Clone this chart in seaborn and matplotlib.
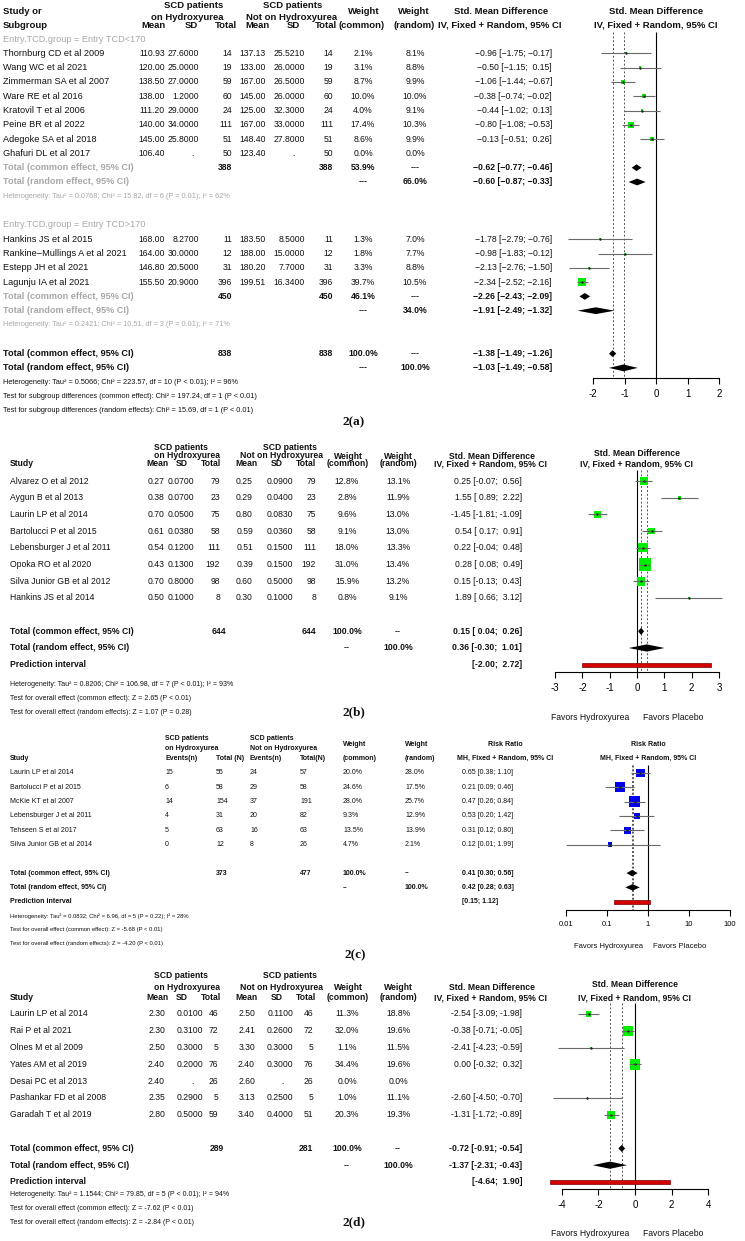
import numpy as np
import pandas as pd
import matplotlib
matplotlib.use("Agg")
import matplotlib.pyplot as plt
import seaborn as sns

nan = float("nan")

# ======================= DATA =======================
# ---- Panel 2(a): subgroup meta-analysis (Entry TCD) ----
a_study = ["Thornburg CD et al 2009", "Wang WC et al 2021", "Zimmerman SA et al 2007",
           "Ware RE et al 2016", "Kratovil T et al 2006", "Peine BR et al 2022",
           "Adegoke SA et al 2018", "Ghafuri DL et al 2017",
           "Hankins JS et al 2015", "Rankine\u2212Mullings A et al 2021",
           "Estepp JH et al 2021", "Lagunju IA et al 2021"]
a_group = [1, 1, 1, 1, 1, 1, 1, 1, 2, 2, 2, 2]
a_mean1 = [110.93, 120.00, 138.50, 138.00, 111.20, 140.00, 145.00, 106.40, 168.00, 164.00, 146.80, 155.50]
a_sd1 = [27.6, 25.0, 27.0, 1.2, 29.0, 34.0, 25.8, nan, 8.27, 30.0, 20.5, 20.9]
a_n1 = [14, 19, 59, 60, 24, 111, 51, 50, 11, 12, 31, 396]
a_mean2 = [137.13, 133.00, 167.00, 145.00, 125.00, 167.00, 148.40, 123.40, 183.50, 188.00, 180.20, 199.51]
a_sd2 = [25.521, 26.0, 26.5, 26.0, 32.3, 33.0, 27.8, nan, 8.5, 15.0, 7.7, 16.34]
a_n2 = [14, 19, 59, 60, 24, 111, 51, 50, 11, 12, 31, 396]
a_wcommon = [2.1, 3.1, 8.7, 10.0, 4.0, 17.4, 8.6, 0.0, 1.3, 1.8, 3.3, 39.7]
a_wrandom = [8.1, 8.8, 9.9, 10.0, 9.1, 10.3, 9.9, 0.0, 7.0, 7.7, 8.8, 10.5]
a_smd = [-0.96, -0.50, -1.06, -0.38, -0.44, -0.80, -0.13, nan, -1.78, -0.98, -2.13, -2.34]
a_lower = [-1.75, -1.15, -1.44, -0.74, -1.02, -1.08, -0.51, nan, -2.79, -1.83, -2.76, -2.52]
a_upper = [-0.17, 0.15, -0.67, -0.02, 0.13, -0.53, 0.26, nan, -0.76, -0.12, -1.50, -2.16]
a_sub_labels = ["Entry.TCD.group = Entry TCD<170", "Entry.TCD.group = Entry TCD>170"]
a_sub_n = [(388, 388), (450, 450)]
a_sub_wcommon = [53.9, 46.1]
a_sub_wrandom = [66.0, 34.0]
a_sub_common = [(-0.62, -0.77, -0.46), (-2.26, -2.43, -2.09)]
a_sub_random = [(-0.60, -0.87, -0.33), (-1.91, -2.49, -1.32)]
a_sub_het = ["Heterogeneity: Tau\u00b2 = 0.0768; Chi\u00b2 = 15.82, df = 6 (P = 0.01); I\u00b2 = 62%",
             "Heterogeneity: Tau\u00b2 = 0.2421; Chi\u00b2 = 10.51, df = 3 (P = 0.01); I\u00b2 = 71%"]
a_total_n = (838, 838)
a_total_common = (-1.38, -1.49, -1.26)
a_total_random = (-1.03, -1.49, -0.58)
a_notes = ["Heterogeneity: Tau\u00b2 = 0.5066; Chi\u00b2 = 223.57, df = 10 (P < 0.01); I\u00b2 = 96%",
           "Test for subgroup differences (common effect): Chi\u00b2 = 197.24, df = 1 (P < 0.01)",
           "Test for subgroup differences (random effects): Chi\u00b2 = 15.69, df = 1 (P < 0.01)"]
a_ticks = [-2, -1, 0, 1, 2]

# ---- Panel 2(b) ----
b_study = ["Alvarez O et al 2012", "Aygun B et al 2013", "Laurin LP et al 2014",
           "Bartolucci P et al 2015", "Lebensburger J et al 2011", "Opoka RO et al 2020",
           "Silva Junior GB et al 2012", "Hankins JS et al 2014"]
b_mean1 = [0.27, 0.38, 0.70, 0.61, 0.54, 0.43, 0.70, 0.50]
b_sd1 = [0.07, 0.07, 0.05, 0.038, 0.12, 0.13, 0.80, 0.10]
b_n1 = [79, 23, 75, 58, 111, 192, 98, 8]
b_mean2 = [0.25, 0.29, 0.80, 0.59, 0.51, 0.39, 0.60, 0.30]
b_sd2 = [0.09, 0.04, 0.083, 0.036, 0.15, 0.15, 0.50, 0.10]
b_n2 = [79, 23, 75, 58, 111, 192, 98, 8]
b_wcommon = [12.8, 2.8, 9.6, 9.1, 18.0, 31.0, 15.9, 0.8]
b_wrandom = [13.1, 11.9, 13.0, 13.0, 13.3, 13.4, 13.2, 9.1]
b_smd = [0.25, 1.55, -1.45, 0.54, 0.22, 0.28, 0.15, 1.89]
b_lower = [-0.07, 0.89, -1.81, 0.17, -0.04, 0.08, -0.13, 0.66]
b_upper = [0.56, 2.22, -1.09, 0.91, 0.48, 0.49, 0.43, 3.12]
b_total_n = (644, 644)
b_common = (0.15, 0.04, 0.26)
b_random = (0.36, -0.30, 1.01)
b_pred = (-2.00, 2.72)
b_notes = ["Heterogeneity: Tau\u00b2 = 0.8206; Chi\u00b2 = 106.98, df = 7 (P < 0.01); I\u00b2 = 93%",
           "Test for overall effect (common effect): Z = 2.65 (P < 0.01)",
           "Test for overall effect (random effects): Z = 1.07 (P = 0.28)"]
b_ticks = [-3, -2, -1, 0, 1, 2, 3]

# ---- Panel 2(c) ----
c_study = ["Laurin LP et al 2014", "Bartolucci P et al 2015", "McKie KT et al 2007",
           "Lebensburger J et al 2011", "Tehseen S et al 2017", "Silva Junior GB et al 2014"]
c_events1 = [15, 6, 14, 4, 5, 0]
c_total1 = [55, 58, 154, 31, 63, 12]
c_events2 = [24, 29, 37, 20, 16, 8]
c_total2 = [57, 58, 191, 82, 63, 26]
c_wcommon = [20.0, 24.6, 28.0, 9.3, 13.5, 4.7]
c_wrandom = [28.0, 17.5, 25.7, 12.9, 13.9, 2.1]
c_rr = [0.65, 0.21, 0.47, 0.53, 0.31, 0.12]
c_lower = [0.38, 0.09, 0.26, 0.20, 0.12, 0.01]
c_upper = [1.10, 0.46, 0.84, 1.42, 0.80, 1.99]
c_total_n = (373, 477)
c_common = (0.41, 0.30, 0.56)
c_random = (0.42, 0.28, 0.63)
c_pred = (0.15, 1.12)
c_notes = ["Heterogeneity: Tau\u00b2 = 0.0832; Chi\u00b2 = 6.96, df = 5 (P = 0.22); I\u00b2 = 28%",
           "Test for overall effect (common effect): Z = -5.68 (P < 0.01)",
           "Test for overall effect (random effects): Z = -4.20 (P < 0.01)"]
c_ticks = [0.01, 0.1, 1, 10, 100]
c_ticklabels = ["0.01", "0.1", "1", "10", "100"]

# ---- Panel 2(d) ----
d_study = ["Laurin LP et al 2014", "Rai P et al 2021", "Olnes M et al 2009", "Yates AM et al 2019",
           "Desai PC et al 2013", "Pashankar FD et al 2008", "Garadah T et al 2019"]
d_mean1 = [2.30, 2.30, 2.50, 2.40, 2.40, 2.35, 2.80]
d_sd1 = [0.01, 0.31, 0.30, 0.20, nan, 0.29, 0.50]
d_n1 = [46, 72, 5, 76, 26, 5, 59]
d_mean2 = [2.50, 2.41, 3.30, 2.40, 2.60, 3.13, 3.40]
d_sd2 = [0.11, 0.26, 0.30, 0.30, nan, 0.25, 0.40]
d_n2 = [46, 72, 5, 76, 26, 5, 51]
d_wcommon = [11.3, 32.0, 1.1, 34.4, 0.0, 1.0, 20.3]
d_wrandom = [18.8, 19.6, 11.5, 19.6, 0.0, 11.1, 19.3]
d_smd = [-2.54, -0.38, -2.41, 0.00, nan, -2.60, -1.31]
d_lower = [-3.09, -0.71, -4.23, -0.32, nan, -4.50, -1.72]
d_upper = [-1.98, -0.05, -0.59, 0.32, nan, -0.70, -0.89]
d_total_n = (289, 281)
d_common = (-0.72, -0.91, -0.54)
d_random = (-1.37, -2.31, -0.43)
d_pred = (-4.64, 1.90)
d_notes = ["Heterogeneity: Tau\u00b2 = 1.1544; Chi\u00b2 = 79.85, df = 5 (P < 0.01); I\u00b2 = 94%",
           "Test for overall effect (common effect): Z = -7.62 (P < 0.01)",
           "Test for overall effect (random effects): Z = -2.84 (P < 0.01)"]
d_ticks = [-4, -2, 0, 2, 4]

# ======================= SETUP =======================
W, H = 745, 1241
sns.set_theme(style="white")
plt.rcParams["font.family"] = ["Liberation Sans", "DejaVu Sans"]
plt.rcParams["axes.unicode_minus"] = False

fig = plt.figure(figsize=(W / 100, H / 100), dpi=100)
fig.patch.set_facecolor("white")

TXT = "#111111"
GREY = "#a8a8a8"
GREEN = "#00ee00"
BLUE = "#0000ee"


def put(x, y, s, size, ha="left", bold=False, color=TXT, family=None):
    kw = dict(fontsize=size, ha=ha, va="center", color=color,
              fontweight="bold" if bold else "normal")
    if family is not None:
        kw["family"] = family
    fig.text(x / W, 1 - y / H, s, **kw)


def ci_str(e, lo, hi, minus="-", pad=True):
    if pad:
        s = f"{e:.2f} [{lo:5.2f}; {hi:5.2f}]"
    else:
        s = f"{e:.2f} [{lo:.2f}; {hi:.2f}]"
    return s.replace("-", minus)


def forest_axes(L, R, T, B):
    ax = fig.add_axes([L / W, 1 - B / H, (R - L) / W, (B - T) / H])
    ax.patch.set_alpha(0)
    for s in ("top", "right", "left"):
        ax.spines[s].set_visible(False)
    return ax


def finish_axes(ax, L, R, T, B, x0, k, r0, dr, ticks, labels, axis_px, fs, log=False):
    if log:
        ax.set_xscale("log")
        ax.set_xlim(10 ** ((L - x0) / k), 10 ** ((R - x0) / k))
    else:
        ax.set_xlim((L - x0) / k, (R - x0) / k)
    ax.set_ylim((B - r0) / dr, (T - r0) / dr)
    ax.set_yticks([])
    sp = ax.spines["bottom"]
    sp.set_position(("data", (axis_px - r0) / dr))
    sp.set_bounds(ticks[0], ticks[-1])
    sp.set_color("black")
    sp.set_linewidth(0.8)
    ax.set_xticks(ticks)
    ax.set_xticklabels(labels)
    ax.minorticks_off()
    ax.tick_params(axis="x", which="both", bottom=True, direction="out", length=4,
                   width=0.8, colors="black", labelsize=fs, pad=4)
    ax.set_xlabel("")
    ax.set_ylabel("")
    ax.grid(False)


def studies(ax, est, lo, hi, rows, w, smax, wmax, color):
    df = pd.DataFrame(dict(est=est, lo=lo, hi=hi, row=rows, w=w)).dropna()
    sns.scatterplot(data=df, x="est", y="row", size="w", sizes=(0, smax), size_norm=(0, wmax),
                    marker="s", color=color, linewidth=0, legend=False, ax=ax, zorder=3)
    ax.hlines(df["row"], df["lo"], df["hi"], color="#6a6a6a", lw=0.8, zorder=4)
    sns.scatterplot(data=df, x="est", y="row", marker="o", s=3, color="#103010",
                    linewidth=0, legend=False, ax=ax, zorder=5)


def diamond(ax, e, lo, hi, row, hh):
    ax.fill([lo, e, hi, e], [row, row - hh, row, row + hh], color="black", lw=0, zorder=4)


def pred_bar(ax, lo, hi, row, hh):
    ax.fill([lo, hi, hi, lo], [row - hh, row - hh, row + hh, row + hh],
            facecolor="#d40000", edgecolor="#7a0000", lw=0.5, zorder=4)


def ref_lines(ax, ref, dots, top, bottom):
    ax.vlines(ref, top, bottom, color="black", lw=0.8, zorder=1)
    ax.vlines(dots, top, bottom, color="#555555", lw=0.7, linestyles=(0, (2, 2)), zorder=1)


# ======================= PANEL 2(a) =======================
r0a, dra = 39.0, 14.3
ya = lambda r: r0a + dra * r
FS_A, NFS_A, HFS_A, SFS_A = 6.6, 6.2, 6.8, 5.3

put(3, 11, "Study or", HFS_A, bold=True)
put(3, 25, "Subgroup", HFS_A, bold=True)
put(194, 5, "SCD patients", HFS_A, ha="center", bold=True)
put(187, 17, "on Hydroxyurea", HFS_A, ha="center", bold=True)
put(293, 5, "SCD patients", HFS_A, ha="center", bold=True)
put(292, 17, "Not on Hydroxyurea", HFS_A, ha="center", bold=True)
for x, s in [(153, "Mean"), (191, "SD"), (226, "Total"), (257, "Mean"), (293, "SD"), (326, "Total")]:
    put(x, 25, s, HFS_A, ha="center", bold=True)
put(364, 11, "Weight", HFS_A, ha="center", bold=True)
put(362, 25, "(common)", HFS_A, ha="center", bold=True)
put(414, 11, "Weight", HFS_A, ha="center", bold=True)
put(414, 25, "(random)", HFS_A, ha="center", bold=True)
put(501, 11, "Std. Mean Difference", HFS_A, ha="center", bold=True)
put(500, 25, "IV, Fixed + Random, 95% CI", HFS_A, ha="center", bold=True)
put(656, 11, "Std. Mean Difference", HFS_A, ha="center", bold=True)
put(656, 25, "IV, Fixed + Random, 95% CI", HFS_A, ha="center", bold=True)

MN = "\u2212"
a_rows = [nan] * len(a_study)
row = 0
sub_rows = []
for gi, g in enumerate([1, 2]):
    put(3, ya(row), a_sub_labels[gi], FS_A, color=GREY)
    row += 1
    for i in range(len(a_study)):
        if a_group[i] != g:
            continue
        a_rows[i] = row
        y = ya(row)
        put(3, y, a_study[i], FS_A)
        put(165, y, f"{a_mean1[i]:.2f}", NFS_A, ha="right")
        if np.isnan(a_sd1[i]):
            put(192, y, ".", NFS_A, ha="center")
        else:
            put(199, y, f"{a_sd1[i]:.4f}", NFS_A, ha="right")
        put(232, y, str(a_n1[i]), NFS_A, ha="right")
        put(266, y, f"{a_mean2[i]:.2f}", NFS_A, ha="right")
        if np.isnan(a_sd2[i]):
            put(293, y, ".", NFS_A, ha="center")
        else:
            put(305, y, f"{a_sd2[i]:.4f}", NFS_A, ha="right")
        put(333, y, str(a_n2[i]), NFS_A, ha="right")
        put(363, y, f"{a_wcommon[i]:.1f}%", NFS_A, ha="center")
        put(415, y, f"{a_wrandom[i]:.1f}%", NFS_A, ha="center")
        if not np.isnan(a_smd[i]):
            put(552, y, ci_str(a_smd[i], a_lower[i], a_upper[i], MN), NFS_A, ha="right")
        row += 1
    y = ya(row)
    put(3, y, "Total (common effect, 95% CI)", FS_A, bold=True, color=GREY)
    put(232, y, str(a_sub_n[gi][0]), NFS_A, ha="right", bold=True)
    put(333, y, str(a_sub_n[gi][1]), NFS_A, ha="right", bold=True)
    put(363, y, f"{a_sub_wcommon[gi]:.1f}%", NFS_A, ha="center", bold=True)
    put(415, y, "---", NFS_A, ha="center", bold=True)
    put(552, y, ci_str(*a_sub_common[gi], MN), NFS_A, ha="right", bold=True)
    y = ya(row + 1)
    put(3, y, "Total (random effect, 95% CI)", FS_A, bold=True, color=GREY)
    put(363, y, "---", NFS_A, ha="center", bold=True)
    put(415, y, f"{a_sub_wrandom[gi]:.1f}%", NFS_A, ha="center", bold=True)
    put(552, y, ci_str(*a_sub_random[gi], MN), NFS_A, ha="right", bold=True)
    put(3, ya(row + 2), a_sub_het[gi], SFS_A, color=GREY)
    sub_rows.append(row)
    row += 4

tot_row = row
y = ya(tot_row)
put(3, y, "Total (common effect, 95% CI)", FS_A, bold=True)
put(232, y, str(a_total_n[0]), NFS_A, ha="right", bold=True)
put(333, y, str(a_total_n[1]), NFS_A, ha="right", bold=True)
put(363, y, "100.0%", NFS_A, ha="center", bold=True)
put(415, y, "---", NFS_A, ha="center", bold=True)
put(552, y, ci_str(*a_total_common, MN), NFS_A, ha="right", bold=True)
y = ya(tot_row + 1)
put(3, y, "Total (random effect, 95% CI)", FS_A, bold=True)
put(363, y, "---", NFS_A, ha="center", bold=True)
put(415, y, "100.0%", NFS_A, ha="center", bold=True)
put(552, y, ci_str(*a_total_random, MN), NFS_A, ha="right", bold=True)
for j, s in enumerate(a_notes):
    put(3, ya(tot_row + 2 + j), s, SFS_A)
put(354, 422, "2(a)", 9.5, ha="center", bold=True, family="Liberation Serif")

LA, RA, TA, BA = 560, 735, 28, 400
axa = forest_axes(LA, RA, TA, BA)
studies(axa, a_smd, a_lower, a_upper, a_rows, a_wcommon, 36, 39.7, GREEN)
hh = 3.4 / dra
for gi, r in enumerate(sub_rows):
    diamond(axa, *a_sub_common[gi], r, hh)
    diamond(axa, *a_sub_random[gi], r + 1, hh)
diamond(axa, *a_total_common, tot_row, hh)
diamond(axa, *a_total_random, tot_row + 1, hh)
axis_a = (378 - r0a) / dra
ref_lines(axa, 0, [a_total_common[0], a_total_random[0]], (32 - r0a) / dra, axis_a)
finish_axes(axa, LA, RA, TA, BA, 656, 31.5, r0a, dra, a_ticks, [str(t) for t in a_ticks], 378, 7)


# ======================= PANELS 2(b) and 2(d) =======================
def smd_panel(study, m1, s1, n1, m2, s2, n2, wc, wr, est, lo, hi, tot_n, com, ran, pred, notes,
              ticks, r0, dr, hdr, cols, fpos, axis_px, vtop, x0, k, smax, wmax, notes_y, fav_y, lab, lab_y,
              FS=6.2, SFS=5.0):
    yy = lambda r: r0 + dr * r
    h1, h2, h3 = hdr
    HFS = FS
    put(181, h1, "SCD patients", HFS, ha="center", bold=True)
    put(187, h2, "on Hydroxyurea", HFS, ha="center", bold=True)
    put(290, h1, "SCD patients", HFS, ha="center", bold=True)
    put(281, h2, "Not on Hydroxyurea", HFS, ha="center", bold=True)
    put(10, h3, "Study", HFS, bold=True)
    for x, s in [(157, "Mean"), (182, "SD"), (211, "Total"), (246, "Mean"), (277, "SD"), (306, "Total")]:
        put(x, h3, s, HFS, ha="center", bold=True)
    hw = (h1 + h3) / 2 + 1
    put(348, hw, "Weight", HFS, ha="center", bold=True)
    put(348, h3, "(common)", HFS, ha="center", bold=True)
    put(398, hw, "Weight", HFS, ha="center", bold=True)
    put(398, h3, "(random)", HFS, ha="center", bold=True)
    put(492, hw, "Std. Mean Difference", HFS, ha="center", bold=True)
    put(490, h3, "IV, Fixed + Random, 95% CI", HFS, ha="center", bold=True)
    put(x0, hw - 3, "Std. Mean Difference", HFS, ha="center", bold=True)
    put(x0, h3, "IV, Fixed + Random, 95% CI", HFS, ha="center", bold=True)

    c = cols
    rows = list(range(len(study)))
    for i in rows:
        y = yy(i)
        put(10, y, study[i], FS)
        put(c[0], y, f"{m1[i]:.2f}", FS, ha="right")
        if np.isnan(s1[i]):
            put(c[1] - 11, y, ".", FS, ha="center")
        else:
            put(c[1], y, f"{s1[i]:.4f}", FS, ha="right")
        put(c[2], y, str(n1[i]), FS, ha="right")
        put(c[3], y, f"{m2[i]:.2f}", FS, ha="right")
        if np.isnan(s2[i]):
            put(c[4] - 11, y, ".", FS, ha="center")
        else:
            put(c[4], y, f"{s2[i]:.4f}", FS, ha="right")
        put(c[5], y, str(n2[i]), FS, ha="right")
        put(347, y, f"{wc[i]:.1f}%", FS, ha="center")
        put(398, y, f"{wr[i]:.1f}%", FS, ha="center")
        if not np.isnan(est[i]):
            put(522, y, ci_str(est[i], lo[i], hi[i]), FS, ha="right")
    rc = len(study) + 1
    y = yy(rc)
    put(10, y, "Total (common effect, 95% CI)", FS, bold=True)
    put(c[2] + 6, y, str(tot_n[0]), FS, ha="right", bold=True)
    put(c[5], y, str(tot_n[1]), FS, ha="right", bold=True)
    put(347, y, "100.0%", FS, ha="center", bold=True)
    put(398, y, "--", FS, ha="center", bold=True)
    put(522, y, ci_str(*com), FS, ha="right", bold=True)
    y = yy(rc + 1)
    put(10, y, "Total (random effect, 95% CI)", FS, bold=True)
    put(347, y, "--", FS, ha="center", bold=True)
    put(398, y, "100.0%", FS, ha="center", bold=True)
    put(522, y, ci_str(*ran), FS, ha="right", bold=True)
    y = yy(rc + 2)
    put(10, y, "Prediction interval", FS, bold=True)
    put(522, y, f"[{pred[0]:5.2f}; {pred[1]:5.2f}]", FS, ha="right", bold=True)
    for j, s in enumerate(notes):
        put(10, notes_y[j], s, SFS)
    put(590, fav_y, "Favors Hydroxyurea", FS, ha="center")
    put(673, fav_y, "Favors Placebo", FS, ha="center")
    put(354, lab_y, lab, 9.5, ha="center", bold=True, family="Liberation Serif")

    L, R, T, B = fpos
    ax = forest_axes(L, R, T, B)
    studies(ax, est, lo, hi, rows, wc, smax, wmax, GREEN)
    hh = 3.6 / dr
    diamond(ax, *com, rc, hh)
    diamond(ax, *ran, rc + 1, hh)
    pred_bar(ax, pred[0], pred[1], rc + 2, 2.2 / dr)
    ax_row = (axis_px - r0) / dr
    ref_lines(ax, 0, [com[0], ran[0]], (vtop - r0) / dr, ax_row)
    finish_axes(ax, L, R, T, B, x0, k, r0, dr, ticks, [str(t) for t in ticks], axis_px, 7)


smd_panel(b_study, b_mean1, b_sd1, b_n1, b_mean2, b_sd2, b_n2, b_wcommon, b_wrandom,
          b_smd, b_lower, b_upper, b_total_n, b_common, b_random, b_pred, b_notes, b_ticks,
          r0=481, dr=16.7, hdr=(447, 456, 464), cols=(164, 194, 220, 253, 293, 316),
          fpos=(540, 735, 466, 700), axis_px=672, vtop=470, x0=637, k=27.3,
          smax=75, wmax=31.0, notes_y=(685, 699, 713), fav_y=717, lab="2(b)", lab_y=712)

smd_panel(d_study, d_mean1, d_sd1, d_n1, d_mean2, d_sd2, d_n2, d_wcommon, d_wrandom,
          d_smd, d_lower, d_upper, d_total_n, d_common, d_random, d_pred, d_notes, d_ticks,
          r0=1014, dr=16.8, hdr=(975, 987, 998), cols=(165, 203, 218, 255, 293, 313),
          fpos=(545, 735, 1000, 1215), axis_px=1189, vtop=1003, x0=635, k=18.3,
          smax=55, wmax=34.4, notes_y=(1195, 1209, 1223), fav_y=1234, lab="2(d)", lab_y=1222)

# ======================= PANEL 2(c) =======================
r0c, drc = 773.0, 14.3
yc = lambda r: r0c + drc * r
FS_C, SFS_C = 5.0, 4.2
XE1, XN1, XE2, XN2, XWC, XWR, XRR = 165, 216, 250, 300, 343, 405, 462
put(XE1, 739, "SCD patients", FS_C, bold=True)
put(XE1, 749, "on Hydroxyurea", FS_C, bold=True)
put(XE2, 739, "SCD patients", FS_C, bold=True)
put(XE2, 749, "Not on Hydroxyurea", FS_C, bold=True)
put(10, 758, "Study", FS_C, bold=True)
for x, s in [(XE1, "Events(n)"), (XN1, "Total (N)"), (XE2, "Events(n)"), (XN2, "Total(N)"),
             (XWC, "(common)"), (XWR, "(random)")]:
    put(x, 758, s, FS_C, bold=True)
put(XWC, 744, "Weight", FS_C, bold=True)
put(XWR, 744, "Weight", FS_C, bold=True)
put(505, 744, "Risk Ratio", FS_C, ha="center", bold=True)
put(505, 758, "MH, Fixed + Random, 95% CI", FS_C, ha="center", bold=True)
put(648, 744, "Risk Ratio", FS_C, ha="center", bold=True)
put(648, 758, "MH, Fixed + Random, 95% CI", FS_C, ha="center", bold=True)

c_rows = list(range(len(c_study)))
for i in c_rows:
    y = yc(i)
    put(10, y, c_study[i], FS_C)
    put(XE1, y, str(c_events1[i]), FS_C)
    put(XN1, y, str(c_total1[i]), FS_C)
    put(XE2, y, str(c_events2[i]), FS_C)
    put(XN2, y, str(c_total2[i]), FS_C)
    put(XWC, y, f"{c_wcommon[i]:.1f}%", FS_C)
    put(XWR, y, f"{c_wrandom[i]:.1f}%", FS_C)
    put(XRR, y, ci_str(c_rr[i], c_lower[i], c_upper[i], pad=False), FS_C)
rc = len(c_study) + 1
y = yc(rc)
put(10, y, "Total (common effect, 95% CI)", FS_C, bold=True)
put(XN1, y, str(c_total_n[0]), FS_C, bold=True)
put(XN2, y, str(c_total_n[1]), FS_C, bold=True)
put(XWC, y, "100.0%", FS_C, bold=True)
put(XWR, y, "--", FS_C, bold=True)
put(XRR, y, ci_str(*c_common, pad=False), FS_C, bold=True)
y = yc(rc + 1)
put(10, y, "Total (random effect, 95% CI)", FS_C, bold=True)
put(XWC, y, "--", FS_C, bold=True)
put(XWR, y, "100.0%", FS_C, bold=True)
put(XRR, y, ci_str(*c_random, pad=False), FS_C, bold=True)
y = yc(rc + 2)
put(10, y, "Prediction interval", FS_C, bold=True)
put(XRR, y, f"[{c_pred[0]:.2f}; {c_pred[1]:.2f}]", FS_C, bold=True)
for j, s in enumerate(c_notes):
    put(10, (916, 929, 943)[j], s, SFS_C)
put(609, 947, "Favors Hydroxyurea", 5.5, ha="center")
put(680, 947, "Favors Placebo", 5.5, ha="center")
put(355, 955, "2(c)", 9.5, ha="center", bold=True, family="Liberation Serif")

LC, RC, TC, BC = 548, 745, 762, 935
axc = forest_axes(LC, RC, TC, BC)
studies(axc, c_rr, c_lower, c_upper, c_rows, c_wcommon, 55, 28.0, BLUE)
hhc = 3.2 / drc
diamond(axc, *c_common, rc, hhc)
diamond(axc, *c_random, rc + 1, hhc)
pred_bar(axc, c_pred[0], c_pred[1], rc + 2, 2.2 / drc)
axis_c = (910 - r0c) / drc
ref_lines(axc, 1, [c_common[0], c_random[0]], (765 - r0c) / drc, axis_c)
finish_axes(axc, LC, RC, TC, BC, 648, 41, r0c, drc, c_ticks, c_ticklabels, 910, 5.5, log=True)

fig.savefig("out.png", dpi=100, facecolor="white")
